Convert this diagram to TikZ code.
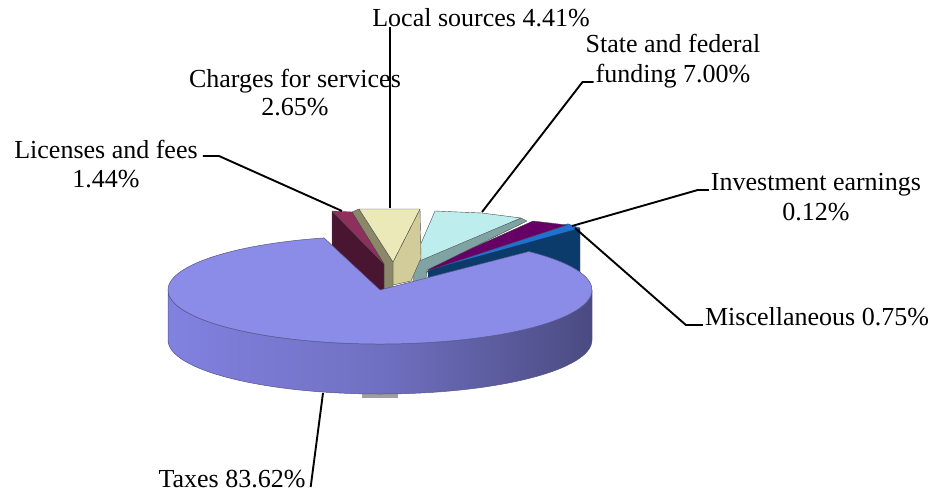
\documentclass[tikz,border=0pt]{standalone}
\usepackage{fontspec}
\setmainfont{Liberation Serif}

% slice colours
\definecolor{taxtop}{HTML}{8B8BE8}
\definecolor{taxedge}{HTML}{55558A}
\definecolor{ts0}{HTML}{7A7AD6}
\definecolor{ts1}{HTML}{8A8AF0}
\definecolor{ts2}{HTML}{7070C2}
\definecolor{ts3}{HTML}{3C3C68}
\definecolor{ts4}{HTML}{2E2E50}
\definecolor{mrtop}{HTML}{8E2F5E}
\definecolor{mrside}{HTML}{4A1530}
\definecolor{crtop}{HTML}{EBE9B8}
\definecolor{crleft}{HTML}{8A8868}
\definecolor{crright}{HTML}{D2CC9A}
\definecolor{cytop}{HTML}{BDEDED}
\definecolor{cyside}{HTML}{7FA3A3}
\definecolor{pplfill}{HTML}{660066}
\definecolor{nvside}{HTML}{0B3B6B}
\definecolor{nvtop}{HTML}{2070D0}

\pgfdeclarehorizontalshading{taxside}{100bp}{color(0bp)=(ts0); color(12bp)=(ts1); color(50bp)=(ts2); color(85bp)=(ts3); color(100bp)=(ts4)}

\begin{document}
\begin{tikzpicture}[x=1pt,y=-1pt,
  facet/.style={draw=black!70, line width=0.4pt, line join=round},
  leader/.style={draw=black, line width=1.9pt},
  lbl/.style={inner sep=0pt, anchor=base, font=\fontsize{26}{29}\selectfont}]
\useasboundingbox (0,0) rectangle (936,493);

% small grey patch under the cylinder
\fill[gray!75] (362,391) rectangle (398,397.5);

% Miscellaneous (navy)
\path[facet, fill=nvside] (428,268) -- (567,225) -- (580,228) -- (580,290) -- (428,300) -- cycle;
\path[fill=nvtop] (430,266) -- (568,223.5) -- (580,228) -- (432,269) -- cycle;
% Investment earnings (purple)
\path[facet, fill=pplfill] (533,221) -- (567,225) -- (430,270) -- (426,273) -- (433,265) -- (470,249) -- cycle;
% State and federal funding (cyan)
\path[facet, fill=cyside] (521,218) -- (527,221) -- (427,270) -- (425,288) -- (413,288) -- (413,262) -- cycle;
\path[facet, fill=cytop] (435,211) -- (482,213) -- (521,218) -- (417,262) -- (413,262) -- cycle;
% Local sources (cream)
\path[facet, fill=crright] (420,209) -- (421,258) -- (411,281) -- (393,285) -- (393,262) -- cycle;
\path[facet, fill=crleft] (359,209) -- (393,262) -- (393,290) -- (384,292) -- (384,264) -- (352,212) -- cycle;
\path[facet, fill=crtop] (359,209) -- (420,209) -- (393,262) -- cycle;
% Licenses and fees (maroon)
\path[facet, fill=mrside] (332,211) -- (384,264) -- (384,314) -- (332,261) -- cycle;
\path[facet, fill=mrtop] (332,211) -- (352,212) -- (384,264) -- cycle;

% Taxes: cylinder wall and top
\path[draw=taxedge, line width=0.5pt, shading=taxside]
  (168,290) arc[start angle=180, end angle=0, x radius=212, y radius=54]
  -- (592,340) arc[start angle=0, end angle=180, x radius=212, y radius=54] -- cycle;
\path[draw=taxedge, line width=0.5pt, fill=taxtop, line join=round]
  (380,290) -- ([shift={(380,290)}]-105.3:212 and 54)
  arc[start angle=-105.3, end angle=-405.4, x radius=212, y radius=54] -- cycle;

% label anchor points on the slices
\coordinate (licTip) at (342,211);
\coordinate (licKnee) at (219,156);
\coordinate (locTip) at (390,208);
\coordinate (stTip) at (482,212);
\coordinate (invTip) at (572,226);
\coordinate (miscTip) at (575,228);
\coordinate (taxTip) at (323,393);

% labels
\node[lbl] (loc) at (481,26) {Local sources 4.41\%};
\node[lbl] (chg1) at (295,87) {Charges for services};
\node[lbl] (chg2) at (295,115) {2.65\%};
\node[lbl] (lic1) at (106,158) {Licenses and fees};
\node[lbl] (lic2) at (106,187) {1.44\%};
\node[lbl] (st1) at (673,52) {State and federal};
\node[lbl] (st2) at (673,82) {funding 7.00\%};
\node[lbl] (inv1) at (816,190) {Investment earnings};
\node[lbl] (inv2) at (816,220) {0.12\%};
\node[lbl] (misc) at (817,325) {Miscellaneous 0.75\%};
\node[lbl] (tax) at (232,487) {Taxes 83.62\%};

% leader lines
\draw[leader] ([shift={(5,-2)}]lic1.base east) -- (licKnee) -- (licTip);
\draw[leader] (loc.south -| locTip) -- (locTip);
\draw[leader] ([xshift=-2pt]st2.base west) -- ++(-11,0) -- (stTip);
\draw[leader] ([xshift=-2pt]inv1.base west) -- ++(-11,0) -- (invTip);
\draw[leader] ([xshift=-2pt]misc.base west) -- ++(-17,0) -- (miscTip);
\draw[leader] ([xshift=5pt]tax.base east) -- (taxTip);
\end{tikzpicture}
\end{document}
